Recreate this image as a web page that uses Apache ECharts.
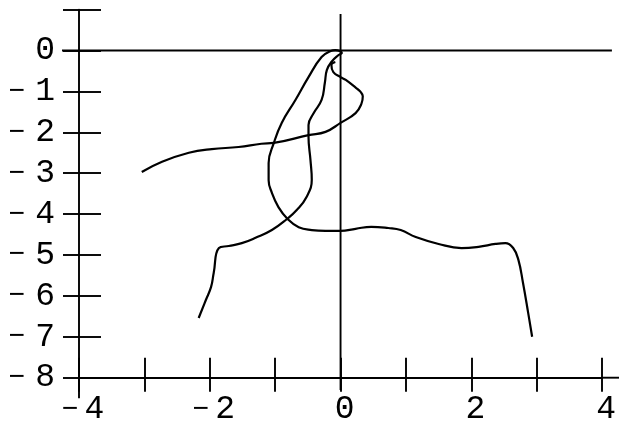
<!DOCTYPE html>
<html>
<head>
<meta charset="utf-8">
<script src="https://cdn.jsdelivr.net/npm/echarts@6/dist/echarts.min.js"></script>
<style>
  html, body { margin: 0; padding: 0; background: #fff; }
  #chart { width: 619px; height: 430px; }
</style>
</head>
<body>
<div id="chart"></div>
<script>
// Axis ranges and tick labels
const xRange = [-4, 4];
const yRange = [-8, 1];
const xLabelValues = [-4, -2, 0, 2, 4];
const yLabelValues = [0, -1, -2, -3, -4, -5, -6, -7, -8];

// Open stroke: starts at the far left, crosses the axis and hooks back near the origin
const hookPath = [
  [-3.04, -2.97], [-2.73, -2.72], [-2.32, -2.50], [-1.97, -2.41], [-1.56, -2.36],
  [-1.21, -2.28], [-1.02, -2.26], [-0.49, -2.07], [-0.23, -1.99], [0.00, -1.77],
  [0.23, -1.53], [0.32, -1.30], [0.34, -1.12], [0.30, -1.00], [0.24, -0.92],
  [0.08, -0.72], [0.00, -0.65], [-0.11, -0.53], [-0.14, -0.35], [-0.08, -0.28]
];

// Long stroke: rises from the lower left to the origin, loops down and runs to the right
const loopPath = [
  [-2.17, -6.54], [-2.06, -6.10], [-1.98, -5.78], [-1.94, -5.44], [-1.86, -4.83],
  [-1.71, -4.78], [-1.51, -4.71], [-1.30, -4.58], [-1.05, -4.39], [-0.82, -4.12],
  [-0.67, -3.90], [-0.52, -3.58], [-0.44, -3.16], [-0.46, -2.68], [-0.49, -2.11],
  [-0.49, -1.82], [-0.41, -1.53], [-0.29, -1.21], [-0.24, -0.79], [-0.21, -0.48],
  [-0.14, -0.28], [-0.03, -0.11], [0.02, -0.06],
  [-0.08, 0.01], [-0.15, -0.01], [-0.29, -0.16], [-0.49, -0.65], [-0.69, -1.21],
  [-0.90, -1.77], [-1.02, -2.26], [-1.10, -2.75], [-1.10, -3.17], [-1.05, -3.48],
  [-0.95, -3.83], [-0.81, -4.12], [-0.64, -4.32], [-0.44, -4.39], [-0.23, -4.41],
  [0.00, -4.41], [0.23, -4.36], [0.47, -4.31], [0.73, -4.34], [0.92, -4.39],
  [1.15, -4.56], [1.50, -4.73], [1.85, -4.83], [2.11, -4.80], [2.37, -4.73],
  [2.52, -4.71], [2.64, -4.83], [2.72, -5.12], [2.79, -5.68], [2.87, -6.42],
  [2.93, -7.00]
];

// Reference lines through the origin and the short overhangs of the frame, in data units
const guideSegments = [
  [[-4.26, 0], [4.15, 0]],
  [[0, 0.89], [0, -8.3]],
  [[-4, -8], [-4, -8.5]],
  [[4, -8], [4.3, -8]]
];

const INK = '#000';
const FONT = '"Liberation Mono", "DejaVu Sans Mono", monospace';

function signedLabel(v) {
  if (v < 0) return '{m|\u2212}{d|' + Math.abs(v) + '}';
  return '{d|' + v + '}';
}

function richFor(gap) {
  return {
    m: { fontFamily: FONT, fontSize: 28, color: INK, padding: [0, gap, 0, 0] },
    d: { fontFamily: FONT, fontSize: 33, color: INK }
  };
}

const chart = echarts.init(document.getElementById('chart'), null, { renderer: 'canvas' });

const axisStroke = { color: INK, width: 1.9 };
const curveStroke = { color: INK, width: 2.2 };

const option = {
  backgroundColor: '#fff',
  animation: false,
  grid: { left: 79, right: 16, top: 9.6, bottom: 52.3, containLabel: false },
  xAxis: [
    {
      type: 'value', min: xRange[0], max: xRange[1], interval: 1, position: 'bottom',
      axisLine: { show: true, onZero: false, lineStyle: axisStroke },
      axisTick: { show: true, inside: false, length: 14, lineStyle: axisStroke },
      splitLine: { show: false },
      axisLabel: {
        show: true, margin: 15, padding: [0, 0, 0, 8],
        formatter: v => xLabelValues.includes(v) ? signedLabel(v) : '',
        rich: richFor(6)
      }
    },
    {
      type: 'value', min: xRange[0], max: xRange[1], interval: 1, position: 'bottom',
      axisLine: { show: false, onZero: false },
      axisTick: { show: true, inside: true, length: 20, lineStyle: axisStroke },
      splitLine: { show: false },
      axisLabel: { show: false }
    }
  ],
  yAxis: [
    {
      type: 'value', min: yRange[0], max: yRange[1], interval: 1, position: 'left',
      axisLine: { show: true, onZero: false, lineStyle: axisStroke },
      axisTick: { show: true, inside: false, length: 16, lineStyle: axisStroke },
      splitLine: { show: false },
      axisLabel: {
        show: true, margin: 24,
        formatter: v => yLabelValues.includes(v) ? signedLabel(v) : '',
        rich: richFor(10)
      }
    },
    {
      type: 'value', min: yRange[0], max: yRange[1], interval: 1, position: 'left',
      axisLine: { show: false, onZero: false },
      axisTick: { show: true, inside: true, length: 22, lineStyle: axisStroke },
      splitLine: { show: false },
      axisLabel: { show: false }
    }
  ],
  series: [
    {
      type: 'line', data: hookPath, showSymbol: false, smooth: 0.45, clip: false,
      lineStyle: curveStroke, silent: true
    },
    {
      type: 'line', data: loopPath, showSymbol: false, smooth: 0.45, clip: false,
      lineStyle: curveStroke, silent: true
    }
  ]
};

chart.setOption(option);

// Guide lines reach past the plotting area, so they are placed through the axis scales
const toPx = p => chart.convertToPixel({ xAxisIndex: 0, yAxisIndex: 0 }, p);
chart.setOption({
  graphic: guideSegments.map(([a, b]) => {
    const pa = toPx(a), pb = toPx(b);
    return {
      type: 'line', silent: true, z: 1,
      shape: { x1: pa[0], y1: pa[1], x2: pb[0], y2: pb[1] },
      style: { stroke: INK, lineWidth: 1.9 }
    };
  })
});
</script>
</body>
</html>
